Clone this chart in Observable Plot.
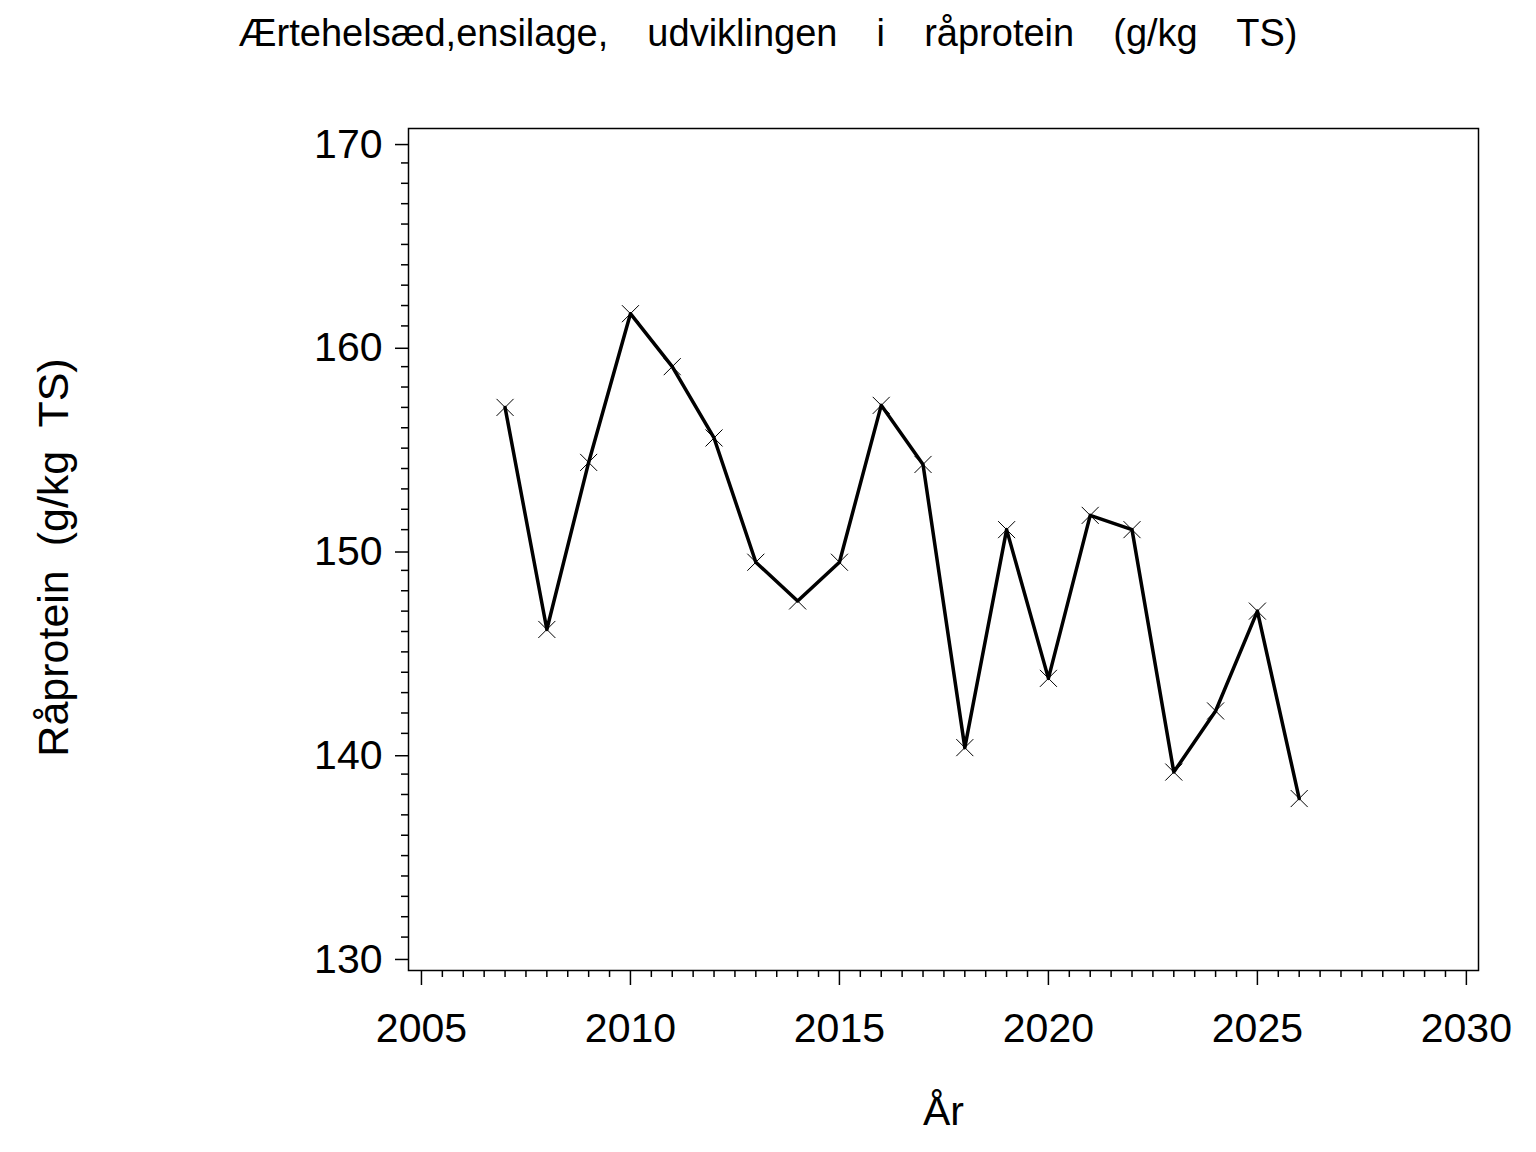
<!DOCTYPE html>
<html>
<head>
<meta charset="utf-8">
<script src="https://cdn.jsdelivr.net/npm/d3@7"></script>
<script src="https://cdn.jsdelivr.net/npm/@observablehq/plot@0.6"></script>
<style>
  html, body { margin: 0; padding: 0; background: white; }
  #title {
    width: 1536px; height: 80px; box-sizing: border-box;
    padding-top: 14px; padding-left: 0px;
    font-family: "Liberation Sans", Arial, sans-serif;
    font-size: 38px; line-height: 38px; text-align: center;
    white-space: pre; word-spacing: 9px; color: black;
  }
</style>
</head>
<body>
<div id="title"></div>
<div id="chart"></div>
<script>
const titleText = "Ærtehelsæd,ensilage,  udviklingen  i  råprotein  (g/kg  TS)";
const xLabel = "År";
const yLabel = "Råprotein  (g/kg  TS)";

const years = [2007, 2008, 2009, 2010, 2011, 2012, 2013, 2014, 2015, 2016,
               2017, 2018, 2019, 2020, 2021, 2022, 2023, 2024, 2025, 2026];
const protein = [157.0, 146.1, 154.3, 161.6, 159.0, 155.5, 149.4, 147.5, 149.4, 157.1,
                 154.2, 140.3, 151.0, 143.7, 151.7, 151.0, 139.1, 142.1, 147.0, 137.8];

const xTicks = [2005, 2010, 2015, 2020, 2025, 2030];
const yTicks = [130, 140, 150, 160, 170];
const xMinor = d3.range(2005, 2030.001, 0.5).filter(v => !xTicks.includes(v));
const yMinor = d3.range(130, 170.001, 1).filter(v => !yTicks.includes(v));

const data = years.map((year, i) => ({year, value: protein[i]}));

document.getElementById("title").textContent = titleText;

const font = "'Liberation Sans', Arial, sans-serif";

const chart = Plot.plot({
  width: 1536,
  height: 1072,
  marginTop: 48,
  marginBottom: 182,
  marginLeft: 408,
  marginRight: 58,
  x: {domain: [2004.69, 2030.29]},
  y: {domain: [129.36, 170.69]},
  style: {fontFamily: font, background: "white", color: "black"},
  marks: [
    Plot.frame({stroke: "black", strokeWidth: 1.5}),
    Plot.axisX(xMinor, {anchor: "bottom", tickSize: 7, tickFormat: () => "", label: null, strokeWidth: 1.5}),
    Plot.axisX(xTicks, {anchor: "bottom", tickSize: 15, tickPadding: 27, tickFormat: d => String(d),
      fontSize: 41, label: null, strokeWidth: 1.5}),
    Plot.axisY(yMinor, {anchor: "left", tickSize: 7, tickFormat: () => "", label: null, strokeWidth: 1.5}),
    Plot.axisY(yTicks, {anchor: "left", tickSize: 13, tickPadding: 13, tickFormat: d => String(d),
      fontSize: 41, dy: 2, label: null, strokeWidth: 1.5}),
    Plot.line(data, {x: "year", y: "value", stroke: "black", strokeWidth: 3.5}),
    Plot.dot(data, {x: "year", y: "value", symbol: "times", r: 7.8, stroke: "black", strokeWidth: 1}),
    Plot.text([xLabel], {frameAnchor: "bottom", dy: 125, lineAnchor: "top", fontSize: 41, text: d => d}),
    Plot.text([yLabel], {frameAnchor: "left", dx: -354, dy: 8, rotate: -90, textAnchor: "middle",
      lineAnchor: "middle", fontSize: 43, text: d => d, style: "white-space: pre"})
  ]
});
document.getElementById("chart").appendChild(chart);
</script>
</body>
</html>
